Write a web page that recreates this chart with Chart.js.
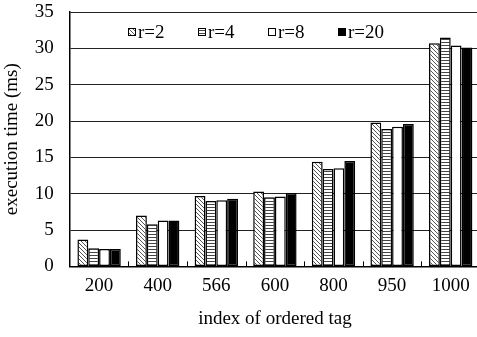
<!DOCTYPE html>
<html>
<head>
<meta charset="utf-8">
<script src="https://cdn.jsdelivr.net/npm/chart.js@4"></script>
<style>
  html, body { margin: 0; padding: 0; background: #fff; overflow: hidden; }
  #wrap { position: absolute; left: 0; top: 0; width: 480px; height: 337px; }
</style>
</head>
<body>
<div id="wrap"><canvas id="chart" width="480" height="337"></canvas></div>
<script>
// data
const categories = ["200", "400", "566", "600", "800", "950", "1000"];
const seriesNames = ["r=2", "r=4", "r=8", "r=20"];
const r2  = [3.7, 7.0, 9.7, 10.3, 14.4, 19.8, 30.7];
const r4  = [2.5, 5.8, 9.0, 9.5, 13.4, 18.9, 31.5];
const r8  = [2.4, 6.3, 9.1, 9.6, 13.5, 19.2, 30.4];
const r20 = [2.4, 6.3, 9.3, 10.1, 14.5, 19.6, 30.1];
const yTicks = [0, 5, 10, 15, 20, 25, 30, 35];

const FONT = "'Liberation Serif', 'Times New Roman', serif";
const FSIZE = 19;

function makePattern(kind) {
  const c = document.createElement("canvas");
  const ctx = c.getContext("2d");
  if (kind === "diag") {
    c.width = 4; c.height = 4;
    ctx.fillStyle = "#fff";
    ctx.fillRect(0, 0, 4, 4);
    ctx.fillStyle = "#555";
    for (let i = 0; i < 4; i++) ctx.fillRect(i, i, 1, 1);
  } else if (kind === "horiz") {
    c.width = 4; c.height = 3;
    ctx.fillStyle = "#fff";
    ctx.fillRect(0, 0, 4, 3);
    ctx.fillStyle = "#444";
    ctx.fillRect(0, 0, 4, 1);
  }
  return ctx.createPattern(c, "repeat");
}

const fills = [makePattern("diag"), makePattern("horiz"), "#fff", "#000"];
const values = [r2, r4, r8, r20];

// legend drawn inside the plot, like the original
const insideLegend = {
  id: "insideLegend",
  afterDraw(chart) {
    const ctx = chart.ctx;
    const startX = 128, y = 32, gap = 70, box = 8;
    ctx.save();
    ctx.font = FSIZE + "px " + FONT;
    ctx.textAlign = "left";
    ctx.textBaseline = "middle";
    seriesNames.forEach((name, i) => {
      const x = startX + i * gap;
      ctx.fillStyle = fills[i];
      ctx.fillRect(x, y - box / 2, box, box);
      ctx.strokeStyle = "#000";
      ctx.lineWidth = 1;
      ctx.strokeRect(x + 0.5, y - box / 2 + 0.5, box - 1, box - 1);
      ctx.fillStyle = "#000";
      ctx.fillText(name, x + box + 2, y + 1);
    });
    ctx.restore();
  }
};

// small inward tick marks between categories on the x axis
const innerTicks = {
  id: "innerTicks",
  afterDatasetsDraw(chart) {
    const xs = chart.scales.x;
    const ctx = chart.ctx;
    const bottom = chart.chartArea.bottom;
    const w = (xs.getPixelForValue(1) - xs.getPixelForValue(0));
    ctx.save();
    ctx.strokeStyle = "#000";
    ctx.lineWidth = 1;
    for (let i = 1; i < categories.length; i++) {
      const px = Math.round(xs.getPixelForValue(i) - w / 2) + 0.5;
      ctx.beginPath();
      ctx.moveTo(px, bottom);
      ctx.lineTo(px, bottom - 5);
      ctx.stroke();
    }
    ctx.restore();
  }
};

new Chart(document.getElementById("chart"), {
  type: "bar",
  data: {
    labels: categories,
    datasets: seriesNames.map((name, i) => ({
      label: name,
      data: values[i],
      backgroundColor: fills[i],
      borderColor: "#000",
      borderWidth: 1.5,
      borderSkipped: false,
      categoryPercentage: 0.74,
      barPercentage: 1.0,
    })),
  },
  options: {
    responsive: false,
    animation: false,
    layout: { padding: { top: 12, right: 0, left: 1, bottom: 7 } },
    plugins: { legend: { display: false }, tooltip: { enabled: false } },
    scales: {
      x: {
        grid: { display: false },
        border: { color: "#000", width: 1.5 },
        ticks: { color: "#000", font: { family: FONT, size: FSIZE }, padding: 0 },
        title: { display: true, text: "index of ordered tag", color: "#000", font: { family: FONT, size: FSIZE }, padding: { top: 10, bottom: 0 } },
      },
      y: {
        min: 0,
        max: 35,
        afterBuildTicks(scale) { scale.ticks = yTicks.map(v => ({ value: v })); },
        afterFit(scale) { scale.paddingTop = 0; scale.paddingBottom = 0; },
        grid: { color: "#222", lineWidth: 1, drawTicks: false },
        border: { color: "#000", width: 1.5 },
        ticks: { color: "#000", font: { family: FONT, size: FSIZE }, padding: 16 },
        title: { display: true, text: "execution time (ms)", color: "#000", font: { family: FONT, size: FSIZE }, padding: { top: 0, bottom: -5 } },
      },
    },
  },
  plugins: [insideLegend, innerTicks],
});
</script>
</body>
</html>
